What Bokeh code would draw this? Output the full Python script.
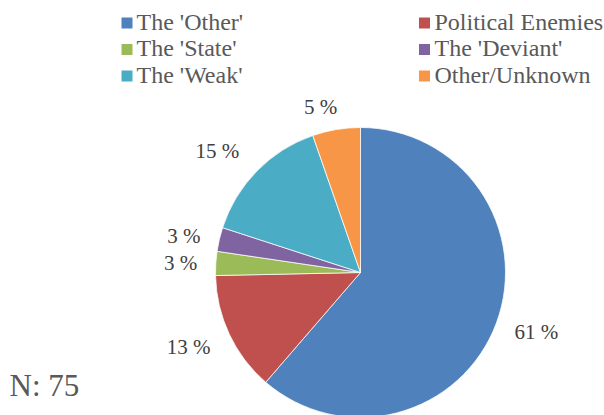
import math
from bokeh.plotting import figure
from bokeh.models import Range1d, ColumnDataSource
from bokeh.core.properties import value
from bokeh.embed import file_html
from bokeh.resources import INLINE

# ---- data ----
categories = ["The 'Other'", "Political Enemies", "The 'State'", "The 'Deviant'", "The 'Weak'", "Other/Unknown"]
counts = [46, 10, 2, 2, 11, 4]
colors = ["#4F81BD", "#C0504D", "#9BBB59", "#8064A2", "#4BACC6", "#F79646"]
n_label = "N: 75"

# ---- layout ----
W, H = 604, 415
cx, cy_px, r = 360, 272, 145
cy = H - cy_px
FONT = "Liberation Serif, Times New Roman, DejaVu Serif, serif"
# small manual nudges of the data labels (screen px: dx right, dy down), like Excel's placement
label_nudge = [(1, -6), (-3, -4.5), (-1, 2), (-1, 5), (-11, 8), (-11, 6)]

p = figure(width=W, height=H, output_backend="svg", toolbar_location=None,
           x_range=Range1d(0, W), y_range=Range1d(0, H),
           x_axis_type=None, y_axis_type=None, min_border=0)
p.grid.visible = False
p.outline_line_color = None
p.background_fill_color = "white"

total = sum(counts)
starts, ends, lx, ly, labels = [], [], [], [], []
cum = 0.0
gap = 16
for i, c in enumerate(counts):
    f0 = cum / total
    f1 = (cum + c) / total
    cum += c
    starts.append(math.pi / 2 - 2 * math.pi * f1)
    ends.append(math.pi / 2 - 2 * math.pi * f0)
    pct = round(100 * c / total)
    lab = f"{pct} %"
    labels.append(lab)
    mid = 2 * math.pi * (f0 + f1) / 2  # clockwise from top
    hw = 5.9 * len(lab)
    hh = 10
    d = r + gap + hw * abs(math.sin(mid)) + hh * abs(math.cos(mid))
    dx, dy = label_nudge[i]
    lx.append(cx + d * math.sin(mid) + dx)
    ly.append(cy + d * math.cos(mid) - dy)

src = ColumnDataSource(dict(start=starts, end=ends, color=colors, lx=lx, ly=ly, lab=labels))
p.wedge(x=cx, y=cy, radius=r, start_angle="start", end_angle="end", direction="anticlock",
        fill_color="color", line_color="white", line_width=0.75, source=src)
p.text(x="lx", y="ly", text="lab", source=src, text_font=value(FONT), text_font_size="21px",
       text_color="#404040", text_align="center", text_baseline="middle")

# ---- legend (2 columns, row-major) ----
col_sq_x = [126.5, 424]
col_tx_x = [136, 434]
row0, row_step = 22.5, 26.5
lgx, lgy, ltx, lty = [], [], [], []
for i in range(len(categories)):
    row, col = divmod(i, 2)
    yc = row0 + row * row_step
    lgx.append(col_sq_x[col]); lgy.append(H - yc)
    ltx.append(col_tx_x[col]); lty.append(H - (yc - 1.5))
lsrc = ColumnDataSource(dict(x=lgx, y=lgy, tx=ltx, ty=lty, color=colors, name=categories))
p.rect(x="x", y="y", width=11, height=11, fill_color="color", line_color=None, source=lsrc)
p.text(x="tx", y="ty", text="name", source=lsrc, text_font=value(FONT), text_font_size="24px",
       text_color="#595959", text_align="left", text_baseline="middle")

p.text(x=[9], y=[H - 384.5], text=[n_label], text_font=value(FONT), text_font_size="31px",
       text_color="#595959", text_align="left", text_baseline="middle")

open("out.html", "w").write(file_html(p, INLINE))
